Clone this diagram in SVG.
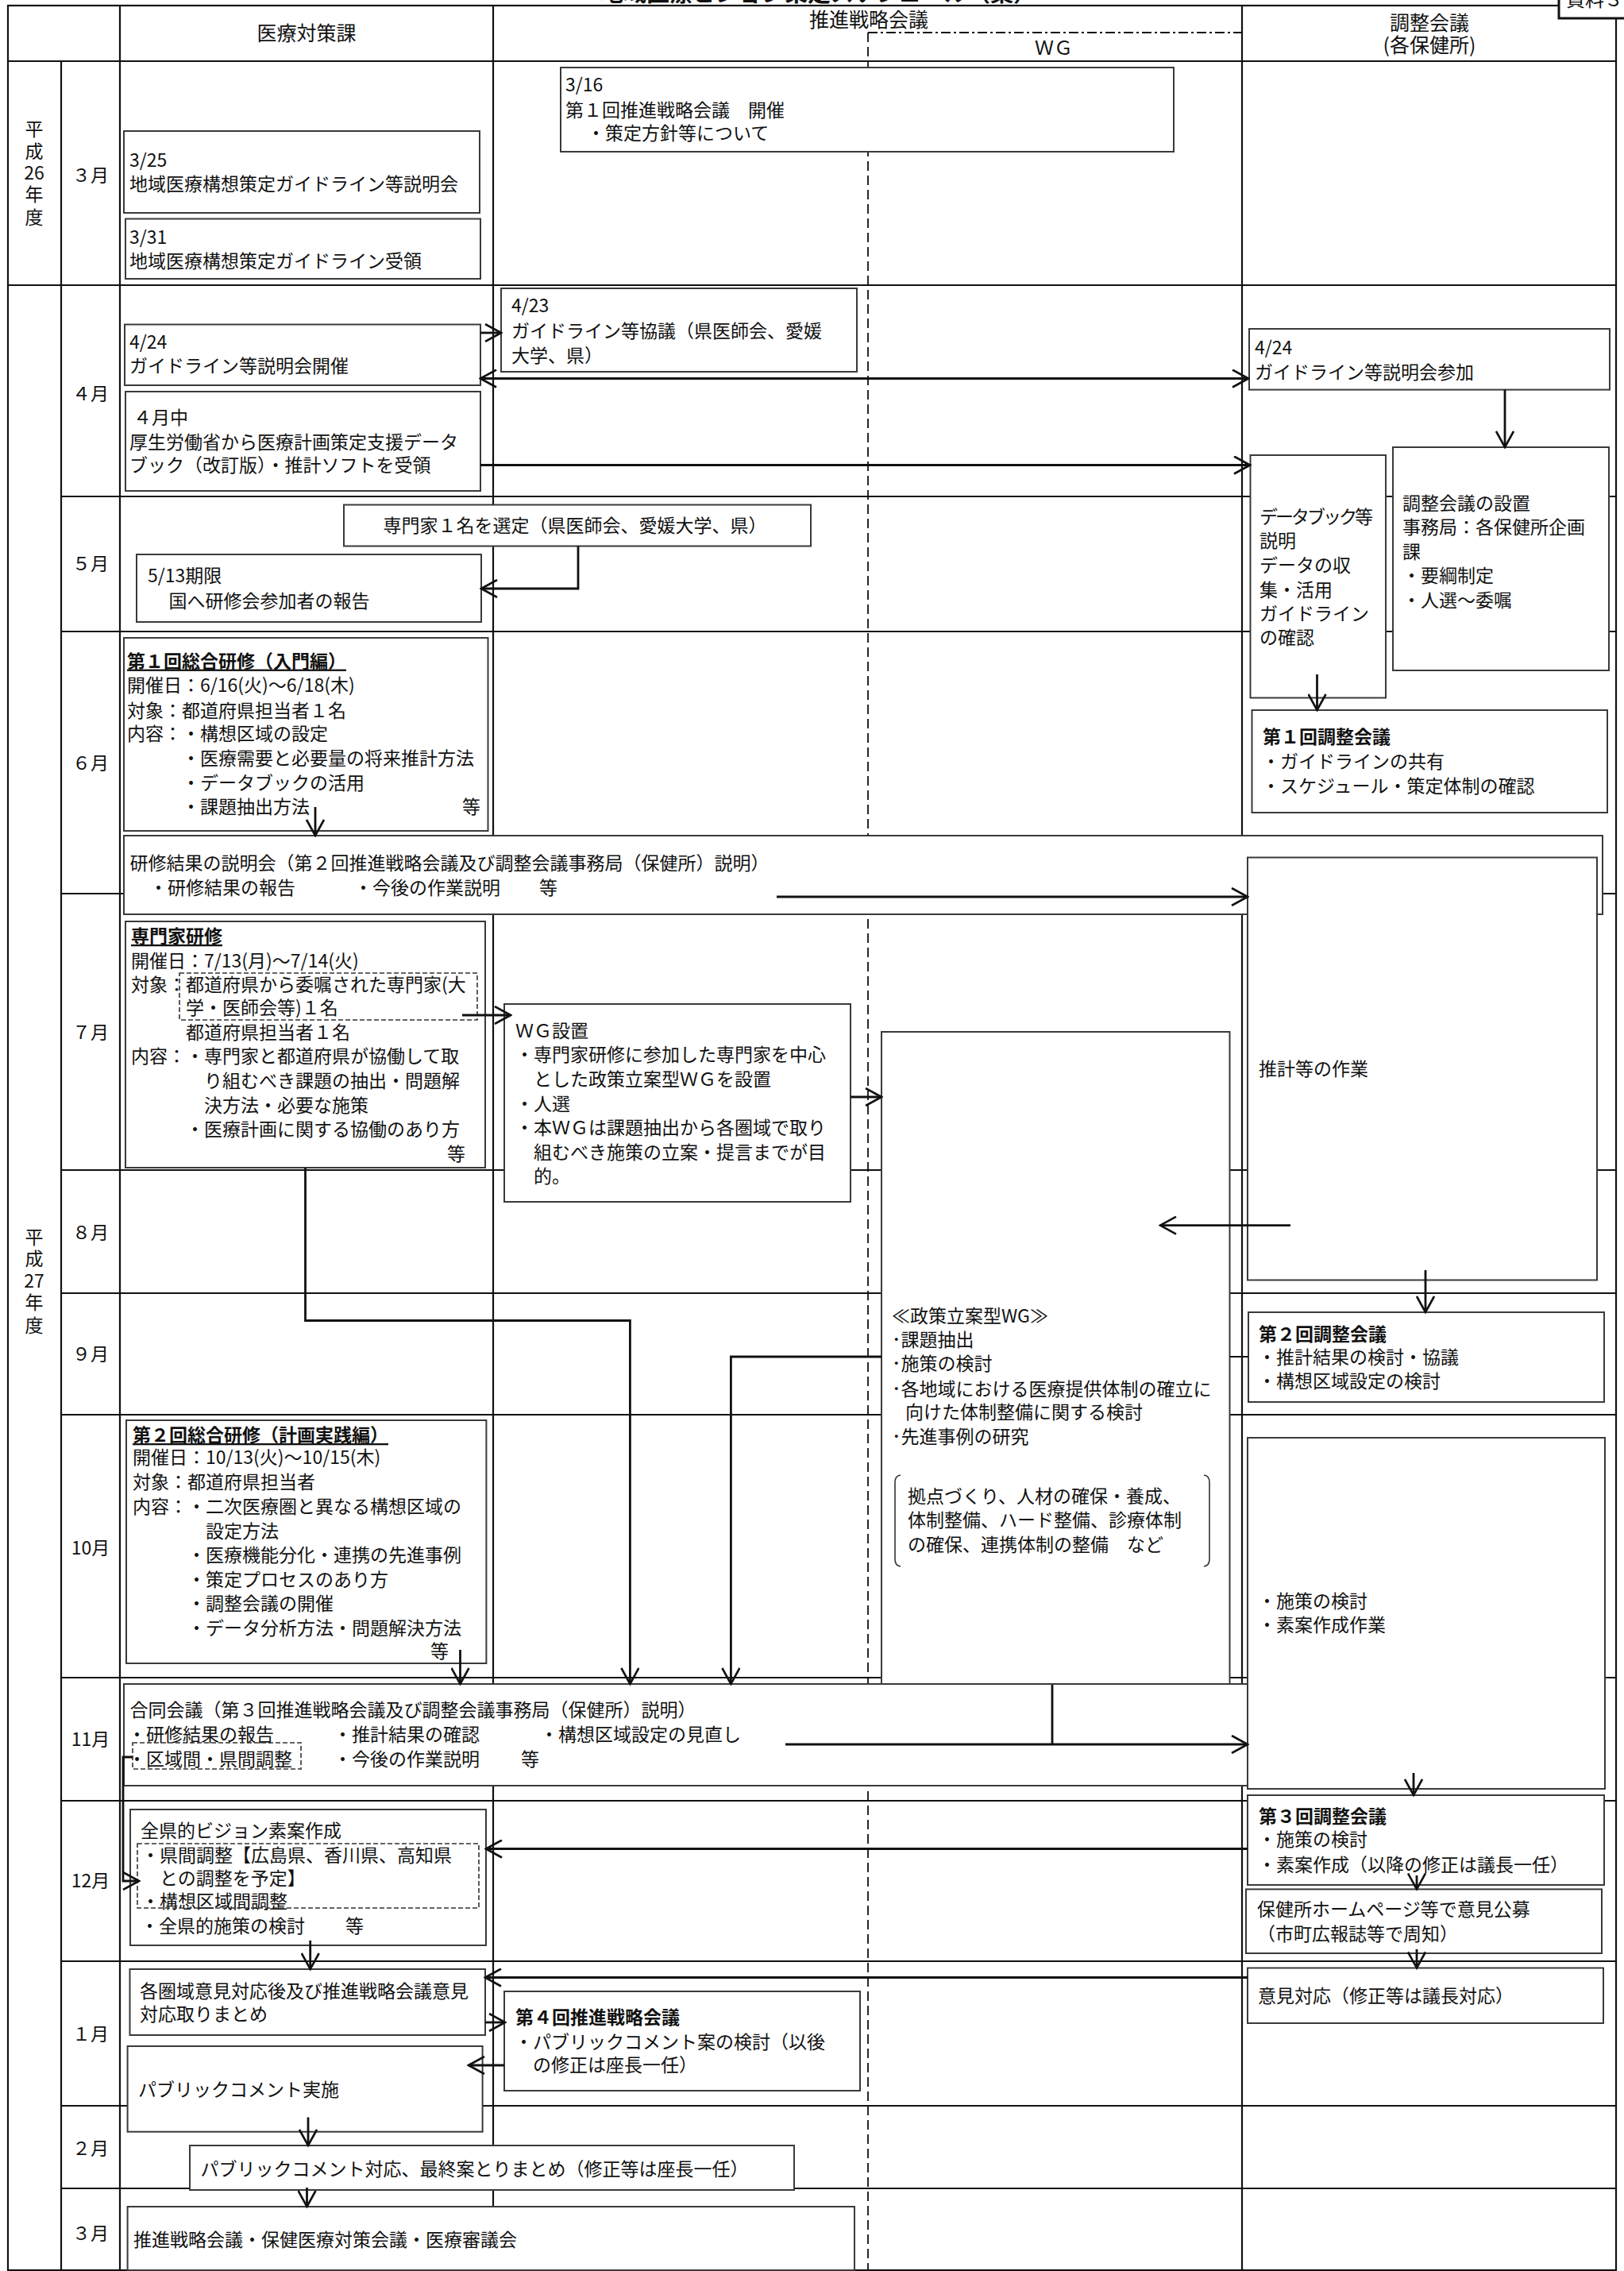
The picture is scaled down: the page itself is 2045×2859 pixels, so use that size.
<svg xmlns="http://www.w3.org/2000/svg" width="2045" height="2859" viewBox="0 0 2045 2859">
<style>
.t{font-family:"Noto Sans CJK JP","Noto Sans CJK SC",sans-serif;font-size:23px;fill:#111}
.h{font-size:25px}
.m{text-anchor:middle}
.e{text-anchor:end}
.b{font-weight:bold}
.u{text-decoration:underline}
.box{fill:#fff;stroke:#3a3a3a;stroke-width:2}
.dash{fill:none;stroke:#333;stroke-width:1.6;stroke-dasharray:6 3}
.grid{stroke:#111;stroke-width:2.2;fill:none}
.gd{stroke:#111;stroke-width:1.8;stroke-dasharray:12 6;fill:none}
.gdd{stroke:#111;stroke-width:2;stroke-dasharray:12 4 3 4;fill:none}
.c{fill:none;stroke:#111;stroke-width:2.8}
.a{marker-end:url(#ah)}
</style>
<defs>
<marker id="ah" viewBox="0 0 24 24" markerWidth="24" markerHeight="24" refX="22" refY="12" orient="auto-start-reverse" markerUnits="userSpaceOnUse">
<path d="M2,1 L22,12 L2,23" fill="none" stroke="#111" stroke-width="2.6"/>
</marker>
</defs>
<rect width="2045" height="2859" fill="#fff"/>
<text class="t b" x="756" y="2" style="font-size:29px">地域医療ビジョン策定スケジュール（案）</text>

<g id="table">
<rect class="grid" x="10" y="7" width="2025" height="2851"/>
<line class="grid" x1="10" y1="77" x2="2035" y2="77"/>
<line class="grid" x1="151" y1="7" x2="151" y2="2858"/>
<line class="grid" x1="621" y1="7" x2="621" y2="2858"/>
<line class="grid" x1="1564" y1="7" x2="1564" y2="2858"/>
<line class="grid" x1="77" y1="77" x2="77" y2="2858"/>
<line class="grid" x1="10" y1="359" x2="2035" y2="359"/>
<path class="grid" d="M77,625H2035M77,795H2035M77,1125H2035M77,1473H2035M77,1628H2035M77,1781H2035M77,2112H2035M77,2267H2035M77,2469H2035M77,2651H2035M77,2755H2035"/>
<line class="gdd" x1="1093" y1="41" x2="1564" y2="41"/>
<line class="gd" x1="1093" y1="41" x2="1093" y2="2858"/>
<text class="t h m" x="386" y="51">医療対策課</text>
<text class="t h m" x="1094" y="34">推進戦略会議</text>
<text class="t m" x="1327" y="69" style="font-size:24px">ＷＧ</text>
<text class="t h m"><tspan x="1800" y="38">調整会議</tspan><tspan x="1800" y="66">(各保健所)</tspan></text>
<text class="t m"><tspan x="43" y="171">平</tspan><tspan x="43" y="199">成</tspan><tspan x="43" y="226">26</tspan><tspan x="43" y="253">年</tspan><tspan x="43" y="282">度</tspan></text>
<text class="t m"><tspan x="43" y="1566">平</tspan><tspan x="43" y="1593">成</tspan><tspan x="43" y="1621">27</tspan><tspan x="43" y="1648">年</tspan><tspan x="43" y="1677">度</tspan></text>
<g class="t m">
<text x="114" y="229">３月</text><text x="114" y="504">４月</text><text x="114" y="718">５月</text><text x="114" y="969">６月</text>
<text x="114" y="1308">７月</text><text x="114" y="1560">８月</text><text x="114" y="1713">９月</text><text x="114" y="1957">10月</text>
<text x="114" y="2198">11月</text><text x="114" y="2376">12月</text><text x="114" y="2569">１月</text><text x="114" y="2713">２月</text><text x="114" y="2820">３月</text>
</g>
</g>

<g id="n-shiryo">
<rect x="1963" y="-10" width="95" height="33" fill="#fff" stroke="#111" stroke-width="3"/>
<text class="t" x="1972" y="8" style="font-size:24px">資料３</text>
</g>

<g id="n-0316">
<rect class="box" x="706" y="85" width="772" height="106"/>
<text class="t" x="712" y="115">3/16</text>
<text class="t" x="712" y="146.5">第１回推進戦略会議　開催</text>
<text class="t" x="739" y="176">・策定方針等について</text>
</g>
<g id="n-0325">
<rect class="box" x="156" y="165" width="448" height="103"/>
<text class="t" x="163" y="209.7">3/25</text>
<text class="t" x="163" y="240">地域医療構想策定ガイドライン等説明会</text>
</g>
<g id="n-0331">
<rect class="box" x="158" y="275.5" width="447" height="75.5"/>
<text class="t" x="163" y="306.5">3/31</text>
<text class="t" x="163" y="337">地域医療構想策定ガイドライン受領</text>
</g>
<g id="n-0423">
<rect class="box" x="631" y="363" width="448" height="105"/>
<text class="t" x="644" y="392.6">4/23</text>
<text class="t" x="644" y="425">ガイドライン等協議（県医師会、愛媛</text>
<text class="t" x="644" y="455.8">大学、県）</text>
</g>
<g id="n-0424a">
<rect class="box" x="157" y="408.5" width="448" height="76.5"/>
<text class="t" x="163" y="438.5">4/24</text>
<text class="t" x="163" y="469">ガイドライン等説明会開催</text>
</g>
<g id="n-04mid">
<rect class="box" x="158" y="493" width="447" height="125"/>
<text class="t" x="168" y="534">４月中</text>
<text class="t" x="163" y="565">厚生労働省から医療計画策定支援データ</text>
<text class="t" x="163" y="594">ブック（改訂版）・推計ソフトを受領</text>
</g>
<g id="n-0424b">
<rect class="box" x="1573" y="414" width="454" height="76.6"/>
<text class="t" x="1580" y="446">4/24</text>
<text class="t" x="1580" y="477">ガイドライン等説明会参加</text>
</g>
<g id="n-databook">
<rect class="box" x="1574.5" y="573" width="170.5" height="305.5"/>
<text class="t" x="1586" y="659" style="letter-spacing:-3px">データブック等</text>
<text class="t" x="1586" y="689">説明</text>
<text class="t" x="1586" y="720">データの収</text>
<text class="t" x="1586" y="750.6">集・活用</text>
<text class="t" x="1586" y="781">ガイドライン</text>
<text class="t" x="1586" y="811">の確認</text>
</g>
<g id="n-secchi">
<rect class="box" x="1754" y="563" width="272" height="281"/>
<text class="t" x="1766" y="641.6">調整会議の設置</text>
<text class="t" x="1766" y="672">事務局：各保健所企画</text>
<text class="t" x="1766" y="703">課</text>
<text class="t" x="1766" y="733">・要綱制定</text>
<text class="t" x="1766" y="764">・人選～委嘱</text>
</g>
<g id="n-chosei1">
<rect class="box" x="1576.5" y="894" width="447.5" height="129"/>
<text class="t b" x="1590" y="936">第１回調整会議</text>
<text class="t" x="1589" y="967">・ガイドラインの共有</text>
<text class="t" x="1589" y="997.5">・スケジュール・策定体制の確認</text>
</g>
<g id="n-senmon1">
<rect class="box" x="433" y="635.5" width="588" height="52"/>
<text class="t m" x="724" y="669.5">専門家１名を選定（県医師会、愛媛大学、県）</text>
</g>
<g id="n-0513">
<rect class="box" x="172" y="698" width="434" height="85"/>
<text class="t" x="186" y="733.4">5/13期限</text>
<text class="t" x="212.5" y="765">国へ研修会参加者の報告</text>
</g>
<g id="n-kenshu1">
<rect class="box" x="156" y="803" width="458.5" height="243"/>
<text class="t b u" x="160" y="840.6">第１回総合研修（入門編）</text>
<text class="t" x="160" y="871">開催日：6/16(火)～6/18(木)</text>
<text class="t" x="160" y="902.6">対象：都道府県担当者１名</text>
<text class="t" x="160" y="932">内容：・構想区域の設定</text>
<text class="t" x="229" y="963">・医療需要と必要量の将来推計方法</text>
<text class="t" x="229" y="993.6">・データブックの活用</text>
<text class="t" x="229" y="1024">・課題抽出方法</text>
<text class="t e" x="605" y="1024">等</text>
</g>
<g id="n-setsumei">
<rect class="box" x="156" y="1052" width="1862" height="99"/>
<text class="t" x="163.5" y="1095">研修結果の説明会（第２回推進戦略会議及び調整会議事務局（保健所）説明）</text>
<text class="t" x="188" y="1125.7">・研修結果の報告</text>
<text class="t" x="446" y="1125.7">・今後の作業説明</text>
<text class="t" x="679" y="1125.7">等</text>
</g>
<g id="n-suikei">
<rect class="box" x="1571" y="1079.5" width="440" height="532"/>
<text class="t" x="1585" y="1354">推計等の作業</text>
</g>
<g id="n-senmonkenshu">
<rect class="box" x="158" y="1160" width="453" height="310"/>
<text class="t b u" x="165" y="1187">専門家研修</text>
<text class="t" x="165" y="1217.7">開催日：7/13(月)～7/14(火)</text>
<text class="t" x="165" y="1248">対象：都道府県から委嘱された専門家(大</text>
<text class="t" x="234" y="1277">学・医師会等)１名</text>
<text class="t" x="234" y="1308">都道府県担当者１名</text>
<text class="t" x="165" y="1338">内容：・専門家と都道府県が協働して取</text>
<text class="t" x="257" y="1369">り組むべき課題の抽出・問題解</text>
<text class="t" x="257" y="1399.5">決方法・必要な施策</text>
<text class="t" x="234" y="1430">・医療計画に関する協働のあり方</text>
<text class="t e" x="586" y="1461">等</text>
<rect class="dash" x="226" y="1225" width="375" height="59"/>
</g>
<g id="n-wgsetchi">
<rect class="box" x="635" y="1264" width="436" height="249"/>
<text class="t" x="649" y="1306">ＷＧ設置</text>
<text class="t" x="649" y="1336">・専門家研修に参加した専門家を中心</text>
<text class="t" x="672" y="1367">とした政策立案型ＷＧを設置</text>
<text class="t" x="649" y="1398">・人選</text>
<text class="t" x="649" y="1428">・本ＷＧは課題抽出から各圏域で取り</text>
<text class="t" x="672" y="1459">組むべき施策の立案・提言までが目</text>
<text class="t" x="672" y="1489">的。</text>
</g>
<g id="n-wg">
<rect class="box" x="1110" y="1299" width="438.5" height="865"/>
<text class="t" x="1123" y="1665">≪政策立案型WG≫</text>
<text class="t" x="1123" y="1695">･課題抽出</text>
<text class="t" x="1123" y="1725">･施策の検討</text>
<text class="t" x="1123" y="1757">･各地域における医療提供体制の確立に</text>
<text class="t" x="1140" y="1786">向けた体制整備に関する検討</text>
<text class="t" x="1123" y="1817">･先進事例の研究</text>
<path d="M1134,1857 Q1127,1858 1127,1866 V1963 Q1127,1971 1134,1972 M1516,1857 Q1523,1858 1523,1866 V1963 Q1523,1971 1516,1972" fill="none" stroke="#333" stroke-width="1.6"/>
<text class="t" x="1143" y="1891.5">拠点づくり、人材の確保・養成、</text>
<text class="t" x="1143" y="1922">体制整備、ハード整備、診療体制</text>
<text class="t" x="1143" y="1953">の確保、連携体制の整備　など</text>
</g>
<g id="n-chosei2">
<rect class="box" x="1572" y="1652" width="448" height="113"/>
<text class="t b" x="1585" y="1688">第２回調整会議</text>
<text class="t" x="1584" y="1717">・推計結果の検討・協議</text>
<text class="t" x="1584" y="1746.6">・構想区域設定の検討</text>
</g>
<g id="n-kenshu2">
<rect class="box" x="159" y="1788" width="453.4" height="306"/>
<text class="t b u" x="167" y="1815">第２回総合研修（計画実践編）</text>
<text class="t" x="167" y="1843">開催日：10/13(火)～10/15(木)</text>
<text class="t" x="167" y="1874">対象：都道府県担当者</text>
<text class="t" x="167" y="1905">内容：・二次医療圏と異なる構想区域の</text>
<text class="t" x="259" y="1935.5">設定方法</text>
<text class="t" x="236" y="1966">・医療機能分化・連携の先進事例</text>
<text class="t" x="236" y="1997">・策定プロセスのあり方</text>
<text class="t" x="236" y="2027">・調整会議の開催</text>
<text class="t" x="236" y="2058">・データ分析方法・問題解決方法</text>
<text class="t e" x="565" y="2087">等</text>
</g>
<g id="n-shisaku">
<rect class="box" x="1571" y="1810" width="450" height="442"/>
<text class="t" x="1584" y="2023.5">・施策の検討</text>
<text class="t" x="1584" y="2054">・素案作成作業</text>
</g>
<g id="n-godo">
<rect class="box" x="156" y="2120" width="1415" height="128"/>
<text class="t" x="163.5" y="2161">合同会議（第３回推進戦略会議及び調整会議事務局（保健所）説明）</text>
<text class="t" x="161" y="2192">・研修結果の報告</text>
<text class="t" x="420" y="2192">・推計結果の確認</text>
<text class="t" x="680" y="2192">・構想区域設定の見直し</text>
<text class="t" x="161" y="2222.5">・区域間・県間調整</text>
<text class="t" x="420" y="2222.5">・今後の作業説明</text>
<text class="t" x="656" y="2222.5">等</text>
<rect class="dash" x="167" y="2194" width="212" height="33"/>
</g>
<g id="n-chosei3">
<rect class="box" x="1571" y="2260" width="449" height="113"/>
<text class="t b" x="1585" y="2295">第３回調整会議</text>
<text class="t" x="1584" y="2324">・施策の検討</text>
<text class="t" x="1584" y="2355.5">・素案作成（以降の修正は議長一任）</text>
</g>
<g id="n-zenken">
<rect class="box" x="164" y="2278" width="448" height="171"/>
<text class="t" x="177" y="2312.5">全県的ビジョン素案作成</text>
<text class="t" x="178" y="2343.5">・県間調整【広島県、香川県、高知県</text>
<text class="t" x="201" y="2372.7">との調整を予定】</text>
<text class="t" x="178" y="2402">・構想区域間調整</text>
<text class="t" x="177" y="2433">・全県的施策の検討</text>
<text class="t" x="435" y="2433">等</text>
<rect class="dash" x="173" y="2321" width="430" height="81"/>
</g>
<g id="n-hp">
<rect class="box" x="1569" y="2378.4" width="448" height="80.6"/>
<text class="t" x="1583" y="2412">保健所ホームページ等で意見公募</text>
<text class="t" x="1583" y="2443">（市町広報誌等で周知）</text>
</g>
<g id="n-iken">
<rect class="box" x="1571" y="2477.5" width="448" height="69.5"/>
<text class="t" x="1584" y="2521">意見対応（修正等は議長対応）</text>
</g>
<g id="n-kakuken">
<rect class="box" x="163.5" y="2479" width="447.5" height="83"/>
<text class="t" x="176" y="2515">各圏域意見対応後及び推進戦略会議意見</text>
<text class="t" x="176" y="2544">対応取りまとめ</text>
</g>
<g id="n-suishin4">
<rect class="box" x="635" y="2507" width="448" height="125"/>
<text class="t b" x="649" y="2548">第４回推進戦略会議</text>
<text class="t" x="648" y="2579">・パブリックコメント案の検討（以後</text>
<text class="t" x="671" y="2608">の修正は座長一任）</text>
</g>
<g id="n-pubcom">
<rect class="box" x="160.6" y="2576" width="447" height="107.7"/>
<text class="t" x="174" y="2639">パブリックコメント実施</text>
</g>
<g id="n-pubtaio">
<rect class="box" x="239" y="2701" width="761" height="56"/>
<text class="t" x="252.5" y="2739">パブリックコメント対応、最終案とりまとめ（修正等は座長一任）</text>
</g>
<g id="n-final">
<rect class="box" x="160.6" y="2778" width="915.4" height="80"/>
<text class="t" x="168" y="2828">推進戦略会議・保健医療対策会議・医療審議会</text>
</g>

<g id="connectors">
<path class="c a" d="M605,419H631"/>
<path class="c a" d="M605,476.5H1572" marker-start="url(#ah)"/>
<path class="c a" d="M605,585.5H1574"/>
<path class="c a" d="M1895,490.6V563"/>
<path class="c a" d="M1658.5,849V894"/>
<path class="c a" d="M728,687.5V741H606"/>
<path class="c a" d="M397,1016V1052"/>
<path class="c a" d="M978,1129H1571"/>
<path class="c a" d="M582,1278H643"/>
<path class="c a" d="M1071,1381H1110"/>
<path class="c a" d="M1625,1542.7H1461"/>
<path class="c a" d="M1795,1599V1652"/>
<path class="c" d="M1548.5,1708H1572" style="stroke-width:2"/>
<path class="c a" d="M384.5,1470V1662.5H793.4V2120"/>
<path class="c a" d="M1110,1708H920.4V2120"/>
<path class="c a" d="M579.5,2077V2120"/>
<path class="c" d="M1325,2121V2196"/>
<path class="c a" d="M989,2196H1571"/>
<path class="c a" d="M1780,2232V2260"/>
<path class="c a" d="M167,2212H155V2368H175"/>
<path class="c a" d="M1571,2327.5H612"/>
<path class="c a" d="M390.7,2443V2479"/>
<path class="c a" d="M1784,2361V2378.4"/>
<path class="c a" d="M1784,2454V2477.5"/>
<path class="c a" d="M1571,2489.5H611"/>
<path class="c a" d="M611,2546H636"/>
<path class="c a" d="M635,2600H590"/>
<path class="c a" d="M388,2665.5V2701"/>
<path class="c a" d="M386.5,2754V2778"/>
</g>
</svg>
